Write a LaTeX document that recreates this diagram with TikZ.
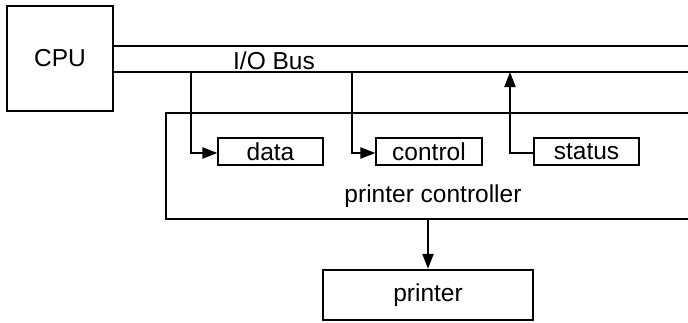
\documentclass[tikz,border=0pt]{standalone}
\usepackage{fontspec}
\setmainfont{Liberation Sans}
\usetikzlibrary{arrows.meta}
\begin{document}
\begin{tikzpicture}[x=1pt,y=-1pt,
  txt/.style={font=\fontsize{24.5}{28}\selectfont, inner sep=0pt},
  bigbox/.style={draw, line width=2.4pt, inner sep=0pt},
  regbox/.style={draw, line width=1.2pt, minimum height=27pt, inner sep=0pt, font=\fontsize{24.5}{28}\selectfont},
  bus/.style={line width=1.2pt},
  conn/.style={line width=2.2pt, -{Triangle[length=15pt,width=11pt]}},
]
\useasboundingbox (0,0) rectangle (688,322);
% CPU
\node[bigbox, minimum width=106pt, minimum height=105pt, font=\fontsize{24.5}{28}\selectfont] (cpu) at (60,58.5) {CPU};
% bus
\coordinate (b1s) at (113,46);
\coordinate (b1e) at (700,46);
\coordinate (b2s) at (113,72);
\coordinate (b2e) at (700,72);
\draw[bus] (b1s) -- (b1e);
\draw[bus] (b2s) -- (b2e);
\node[txt] (buslabel) at (274,61) {I/O Bus};
% controller
\node[bigbox, minimum width=560pt, minimum height=106pt, anchor=north west] (ctrl) at (165,112) {};
\node[txt] (ctrllabel) at (433,196) {printer controller};
% registers
\node[regbox, minimum width=105pt] (data) at (270.5,151.5) {data};
\node[regbox, minimum width=106pt] (control) at (429,151.5) {control};
\node[regbox, minimum width=105pt] (status) at (586.5,151.5) {status};
% taps
\coordinate (dtap) at (191,72);
\coordinate (ctap) at (352,72);
\coordinate (stap) at (510,72);
\draw[conn] (dtap) |- (data.west |- 0,153);
\draw[conn] (ctap) |- (control.west |- 0,153);
\draw[conn] (status.west |- 0,153) -| (stap);
% printer
\node[bigbox, minimum width=210pt, minimum height=50pt, font=\fontsize{24.5}{28}\selectfont] (printer) at (428,295) {printer};
\draw[conn] (ctrl.south -| printer.north) -- (printer.north);
\end{tikzpicture}
\end{document}
